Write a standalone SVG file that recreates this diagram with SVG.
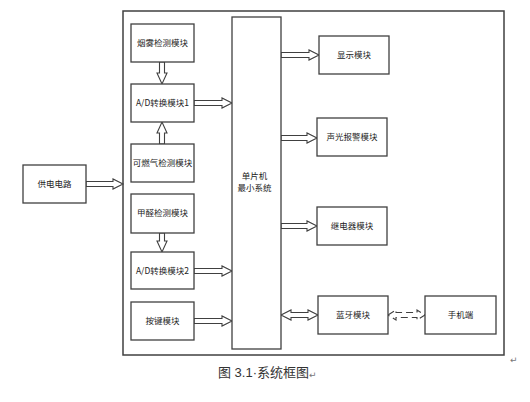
<svg xmlns="http://www.w3.org/2000/svg" width="530" height="402" viewBox="0 0 530 402">
<style>
.box{fill:#fff;stroke:#404040;stroke-width:1.3}
.frame{fill:none;stroke:#404040;stroke-width:1.5}
.arr{fill:#fff;stroke:#404040;stroke-width:1.1;stroke-linejoin:miter}
.dash{fill:none;stroke:#404040;stroke-width:1.1;stroke-dasharray:7,4}
.t{font-family:"Noto Sans CJK SC","Liberation Sans",sans-serif;font-size:8.5px;fill:#222;text-anchor:middle}
.cap{font-family:"Liberation Sans","Noto Sans CJK SC",sans-serif;font-size:13px;fill:#333}
.pm{font-family:"DejaVu Sans",sans-serif;font-size:9px;fill:#777}
</style>
<rect width="530" height="402" fill="#fff"/>
<rect class="frame" x="123" y="11" width="381" height="344"/>
<g id="connectors">
<polygon class="arr" points="86,181.5 113,181.5 113,179 123,184 113,189 113,186.5 86,186.5"/>
<polygon class="arr" points="194,100.5 222,100.5 222,98 232,103 222,108 222,105.5 194,105.5"/>
<polygon class="arr" points="194,268.5 222,268.5 222,266 232,271 222,276 222,273.5 194,273.5"/>
<polygon class="arr" points="194,318.5 222,318.5 222,316 232,321 222,326 222,323.5 194,323.5"/>
<polygon class="arr" points="281,52.5 309,52.5 309,50 319,55 309,60 309,57.5 281,57.5"/>
<polygon class="arr" points="281,135.5 307,135.5 307,133 317,138 307,143 307,140.5 281,140.5"/>
<polygon class="arr" points="281,223.5 307,223.5 307,221 317,226 307,231 307,228.5 281,228.5"/>
<polygon class="arr" points="281,315 291,310 291,312.5 308,312.5 308,310 318,315 308,320 308,317.5 291,317.5 291,320"/>
<polygon class="dash" points="388,315 396,310 396,312.5 417,312.5 417,310 425,315 417,320 417,317.5 396,317.5 396,320"/>
<polygon class="arr" points="159.5,62 164.5,62 164.5,73 167,73 162,84 157,73 159.5,73"/>
<polygon class="arr" points="159.5,144 164.5,144 164.5,133 167,133 162,122 157,133 159.5,133"/>
<polygon class="arr" points="159.5,233 164.5,233 164.5,241 167,241 162,252 157,241 159.5,241"/>
</g>
<g id="power"><rect class="box" x="23" y="165" width="63" height="38"/><text class="t" x="54.5" y="187">供电电路</text></g>
<g id="smoke"><rect class="box" x="131" y="24" width="63" height="38"/><text class="t" x="162.5" y="46">烟雾检测模块</text></g>
<g id="ad1"><rect class="box" x="131" y="84" width="63" height="38"/><text class="t" x="162.5" y="106">A/D转换模块1</text></g>
<g id="gas"><rect class="box" x="131" y="144" width="63" height="38"/><text class="t" x="162.5" y="166">可燃气检测模块</text></g>
<g id="formaldehyde"><rect class="box" x="131" y="194" width="63" height="39"/><text class="t" x="162.5" y="216">甲醛检测模块</text></g>
<g id="ad2"><rect class="box" x="131" y="252" width="63" height="37"/><text class="t" x="162.5" y="274">A/D转换模块2</text></g>
<g id="keys"><rect class="box" x="131" y="302" width="63" height="38"/><text class="t" x="162.5" y="324">按键模块</text></g>
<g id="mcu"><rect class="box" x="232" y="17" width="49" height="332"/><text class="t" x="254.5" y="179">单片机</text><text class="t" x="254.5" y="191">最小系统</text></g>
<g id="display"><rect class="box" x="319" y="36" width="70" height="38"/><text class="t" x="354" y="58">显示模块</text></g>
<g id="alarm"><rect class="box" x="317" y="118" width="70" height="38"/><text class="t" x="352" y="140">声光报警模块</text></g>
<g id="relay"><rect class="box" x="317" y="207" width="70" height="38"/><text class="t" x="352" y="229">继电器模块</text></g>
<g id="bluetooth"><rect class="box" x="318" y="296" width="70" height="38"/><text class="t" x="353" y="318">蓝牙模块</text></g>
<g id="phone"><rect class="box" x="425" y="296" width="71" height="38"/><text class="t" x="460.5" y="318">手机端</text></g>
<text class="pm" x="510" y="363">↵</text>
<text class="cap" x="218" y="377">图 3.1·系统框图</text>
<text class="pm" x="309" y="378">↵</text>
</svg>
